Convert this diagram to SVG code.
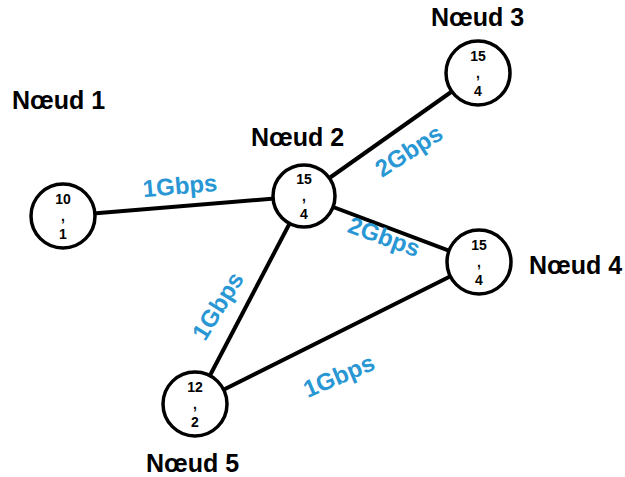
<svg xmlns="http://www.w3.org/2000/svg" width="625" height="477" viewBox="0 0 625 477">
<style>
.edge{stroke:#000;stroke-width:4;fill:none}
.node circle{fill:#fff;stroke:#000;stroke-width:3.5}
.val{font-family:"Liberation Sans",Arial,sans-serif;font-weight:bold;font-size:14px;text-anchor:middle;fill:#000}
.name{font-family:"Liberation Sans",Arial,sans-serif;font-weight:bold;font-size:25px;fill:#000}
.bw{font-family:"Liberation Sans",Arial,sans-serif;font-weight:bold;font-size:24px;fill:#2a97d5;text-anchor:middle}
</style>
<rect width="625" height="477" fill="#fff"/>
<g id="connectors">
<line class="edge" x1="63" y1="216" x2="304" y2="196"/>
<line class="edge" x1="304" y1="196" x2="478" y2="73"/>
<line class="edge" x1="304" y1="196" x2="479" y2="262"/>
<line class="edge" x1="304" y1="196" x2="195" y2="404"/>
<line class="edge" x1="479" y1="262" x2="195" y2="404"/>
<text class="bw" transform="translate(180,186) rotate(-5)" y="8">1Gbps</text>
<text class="bw" transform="translate(409,151) rotate(-33)" y="8">2Gbps</text>
<text class="bw" transform="translate(384,237) rotate(20)" y="8">2Gbps</text>
<text class="bw" transform="translate(218,306) rotate(-58)" y="8">1Gbps</text>
<text class="bw" transform="translate(339,376) rotate(-23)" y="8">1Gbps</text>
</g>
<g id="node1" class="node">
<circle cx="63" cy="216" r="32"/>
<text class="val" x="63" y="204">10</text>
<text class="val" x="63" y="221">,</text>
<text class="val" x="63" y="239">1</text>
<text class="name" x="12" y="109">Nœud 1</text>
</g>
<g id="node2" class="node">
<circle cx="304" cy="196" r="31"/>
<text class="val" x="304" y="184">15</text>
<text class="val" x="304" y="201">,</text>
<text class="val" x="304" y="219">4</text>
<text class="name" x="251" y="146">Nœud 2</text>
</g>
<g id="node3" class="node">
<circle cx="478" cy="73" r="32"/>
<text class="val" x="478" y="61">15</text>
<text class="val" x="478" y="78">,</text>
<text class="val" x="478" y="96">4</text>
<text class="name" x="431" y="26">Nœud 3</text>
</g>
<g id="node4" class="node">
<circle cx="479" cy="262" r="32"/>
<text class="val" x="479" y="250">15</text>
<text class="val" x="479" y="267">,</text>
<text class="val" x="479" y="285">4</text>
<text class="name" x="529" y="274">Nœud 4</text>
</g>
<g id="node5" class="node">
<circle cx="195" cy="404" r="32"/>
<text class="val" x="195" y="392">12</text>
<text class="val" x="195" y="409">,</text>
<text class="val" x="195" y="427">2</text>
<text class="name" x="146" y="472">Nœud 5</text>
</g>
</svg>
